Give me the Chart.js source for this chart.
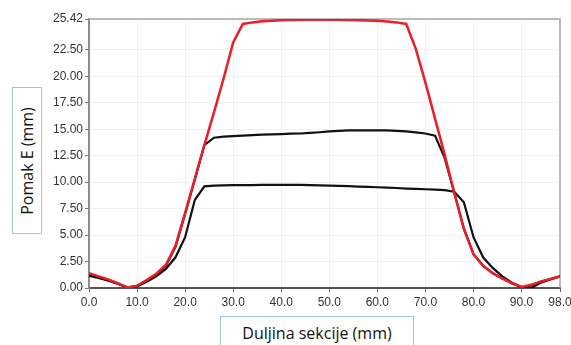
<!DOCTYPE html>
<html>
<head>
<meta charset="utf-8">
<script src="https://cdn.jsdelivr.net/npm/chart.js@4.4.1/dist/chart.umd.min.js"></script>
<style>
  body { margin: 0; background: #fff; }
  #wrap { position: relative; width: 571px; height: 345px; overflow: hidden; }
  #c { position: absolute; left: 0; top: 0; }
  .ttl {
    position: absolute; box-sizing: border-box; background: #fff;
    border: 1px solid #9dc3e6; color: #111;
    font-family: "Open Sans", "Noto Sans", sans-serif;
    display: flex; align-items: center; justify-content: center;
  }
  #ytitle { left: 12px; top: 87px; width: 30px; height: 147px; }
  #ytitle span { transform: rotate(-90deg); white-space: nowrap; font-size: 16px; }
  #xtitle { left: 220px; top: 316px; width: 194px; height: 34px; font-size: 16px; white-space: nowrap; }
</style>
</head>
<body>
<div id="wrap">
  <canvas id="c" width="571" height="345"></canvas>
  <div class="ttl" id="ytitle"><span>Pomak E (mm)</span></div>
  <div class="ttl" id="xtitle">Duljina sekcije (mm)</div>
</div>
<script>
// section length positions (mm)
const positions = [0, 2, 4, 6, 8, 10, 12, 14, 16, 18, 20, 22, 24, 26, 28, 30, 32, 34, 36, 38,
  40, 42, 44, 46, 48, 50, 52, 54, 56, 58, 60, 62, 64, 66, 68, 70, 72, 74, 76, 78,
  80, 82, 84, 86, 88, 90, 92, 94, 96, 98]

const redValues = [1.4, 1.1, 0.8, 0.45, 0.05, 0.2, 0.75, 1.35, 2.2, 4.0, 7.1, 10.3, 13.5, 16.6, 19.8, 23.2, 24.95, 25.1, 25.2, 25.25,
  25.3, 25.32, 25.34, 25.35, 25.35, 25.35, 25.34, 25.32, 25.3, 25.28, 25.25, 25.18, 25.1, 24.95, 22.6, 19.4, 16.0, 12.6, 9.0, 5.6,
  3.2, 2.1, 1.4, 0.9, 0.45, 0.1, 0.3, 0.6, 0.85, 1.1]

const blackUpper = [1.25, 1.0, 0.75, 0.4, 0.05, 0.2, 0.7, 1.3, 2.1, 3.9, 7.0, 10.2, 13.5, 14.2, 14.3, 14.35, 14.4, 14.45, 14.5, 14.52,
  14.55, 14.58, 14.6, 14.65, 14.72, 14.8, 14.85, 14.9, 14.9, 14.9, 14.9, 14.9, 14.85, 14.8, 14.7, 14.6, 14.4, 12.3, 9.0, 5.6,
  3.2, 2.1, 1.4, 0.9, 0.45, 0.05, 0.25, 0.6, 0.85, 1.1]

const blackLower = [1.15, 0.95, 0.7, 0.4, 0.05, 0.15, 0.6, 1.1, 1.8, 2.9, 4.8, 8.3, 9.6, 9.68, 9.7, 9.72, 9.72, 9.73, 9.74, 9.75,
  9.75, 9.75, 9.74, 9.72, 9.7, 9.68, 9.65, 9.62, 9.58, 9.55, 9.52, 9.48, 9.45, 9.4, 9.36, 9.33, 9.3, 9.25, 9.1, 8.1,
  4.8, 2.9, 1.9, 1.1, 0.5, 0.1, 0.0, 0.5, 0.8, 1.1]

const xTicks = [0, 10, 20, 30, 40, 50, 60, 70, 80, 90, 98]
const yTicks = [0, 2.5, 5, 7.5, 10, 12.5, 15, 17.5, 20, 22.5, 25.42]

const toPoints = vals => vals.map((v, i) => ({ x: positions[i], y: v }))

// light frame on top and right of the plot
const frame = {
  id: 'frame',
  beforeDatasetsDraw(chart) {
    const { ctx, chartArea: a } = chart
    ctx.save()
    ctx.strokeStyle = '#a6a6a6'
    ctx.lineWidth = 1.5
    ctx.beginPath()
    ctx.moveTo(a.left, a.top)
    ctx.lineTo(a.right, a.top)
    ctx.lineTo(a.right, a.bottom)
    ctx.stroke()
    ctx.restore()
  }
}

const tickFont = { family: '"Liberation Sans", Arial, sans-serif', size: 12 }

new Chart(document.getElementById('c'), {
  type: 'line',
  data: {
    datasets: [
      { data: toPoints(redValues), borderColor: '#ee1c24', borderWidth: 2.5 },
      { data: toPoints(blackUpper), borderColor: '#111111', borderWidth: 2.2 },
      { data: toPoints(blackLower), borderColor: '#111111', borderWidth: 2.2 }
    ]
  },
  options: {
    responsive: false,
    animation: false,
    events: [],
    layout: { padding: { top: 19, right: 11, left: 0, bottom: 0 } },
    elements: { point: { radius: 0 }, line: { tension: 0 } },
    plugins: { legend: { display: false }, tooltip: { enabled: false } },
    scales: {
      x: {
        type: 'linear',
        min: 0,
        max: 98,
        afterBuildTicks: s => { s.ticks = xTicks.map(v => ({ value: v })) },
        afterFit: s => {
          s.height = 57
          // let the last label run past the plot edge, like the original
          s.paddingLeft = 0
          s.paddingRight = 0
        },
        ticks: {
          callback: v => v.toFixed(1),
          color: '#333',
          font: tickFont,
          maxRotation: 0,
          autoSkip: false,
          padding: 3
        },
        grid: { color: '#f1f1f1', tickColor: '#666', tickLength: 4 },
        border: { color: '#555', width: 2 }
      },
      y: {
        min: 0,
        max: 25.42,
        afterBuildTicks: s => { s.ticks = yTicks.map(v => ({ value: v })) },
        afterFit: s => { s.width = 89 },
        ticks: {
          callback: v => v.toFixed(2),
          color: '#333',
          font: tickFont,
          padding: 2
        },
        grid: { color: '#f1f1f1', tickColor: '#777', tickLength: 4 },
        border: { color: '#8c8c8c', width: 2 }
      }
    }
  },
  plugins: [frame]
})
</script>
</body>
</html>
